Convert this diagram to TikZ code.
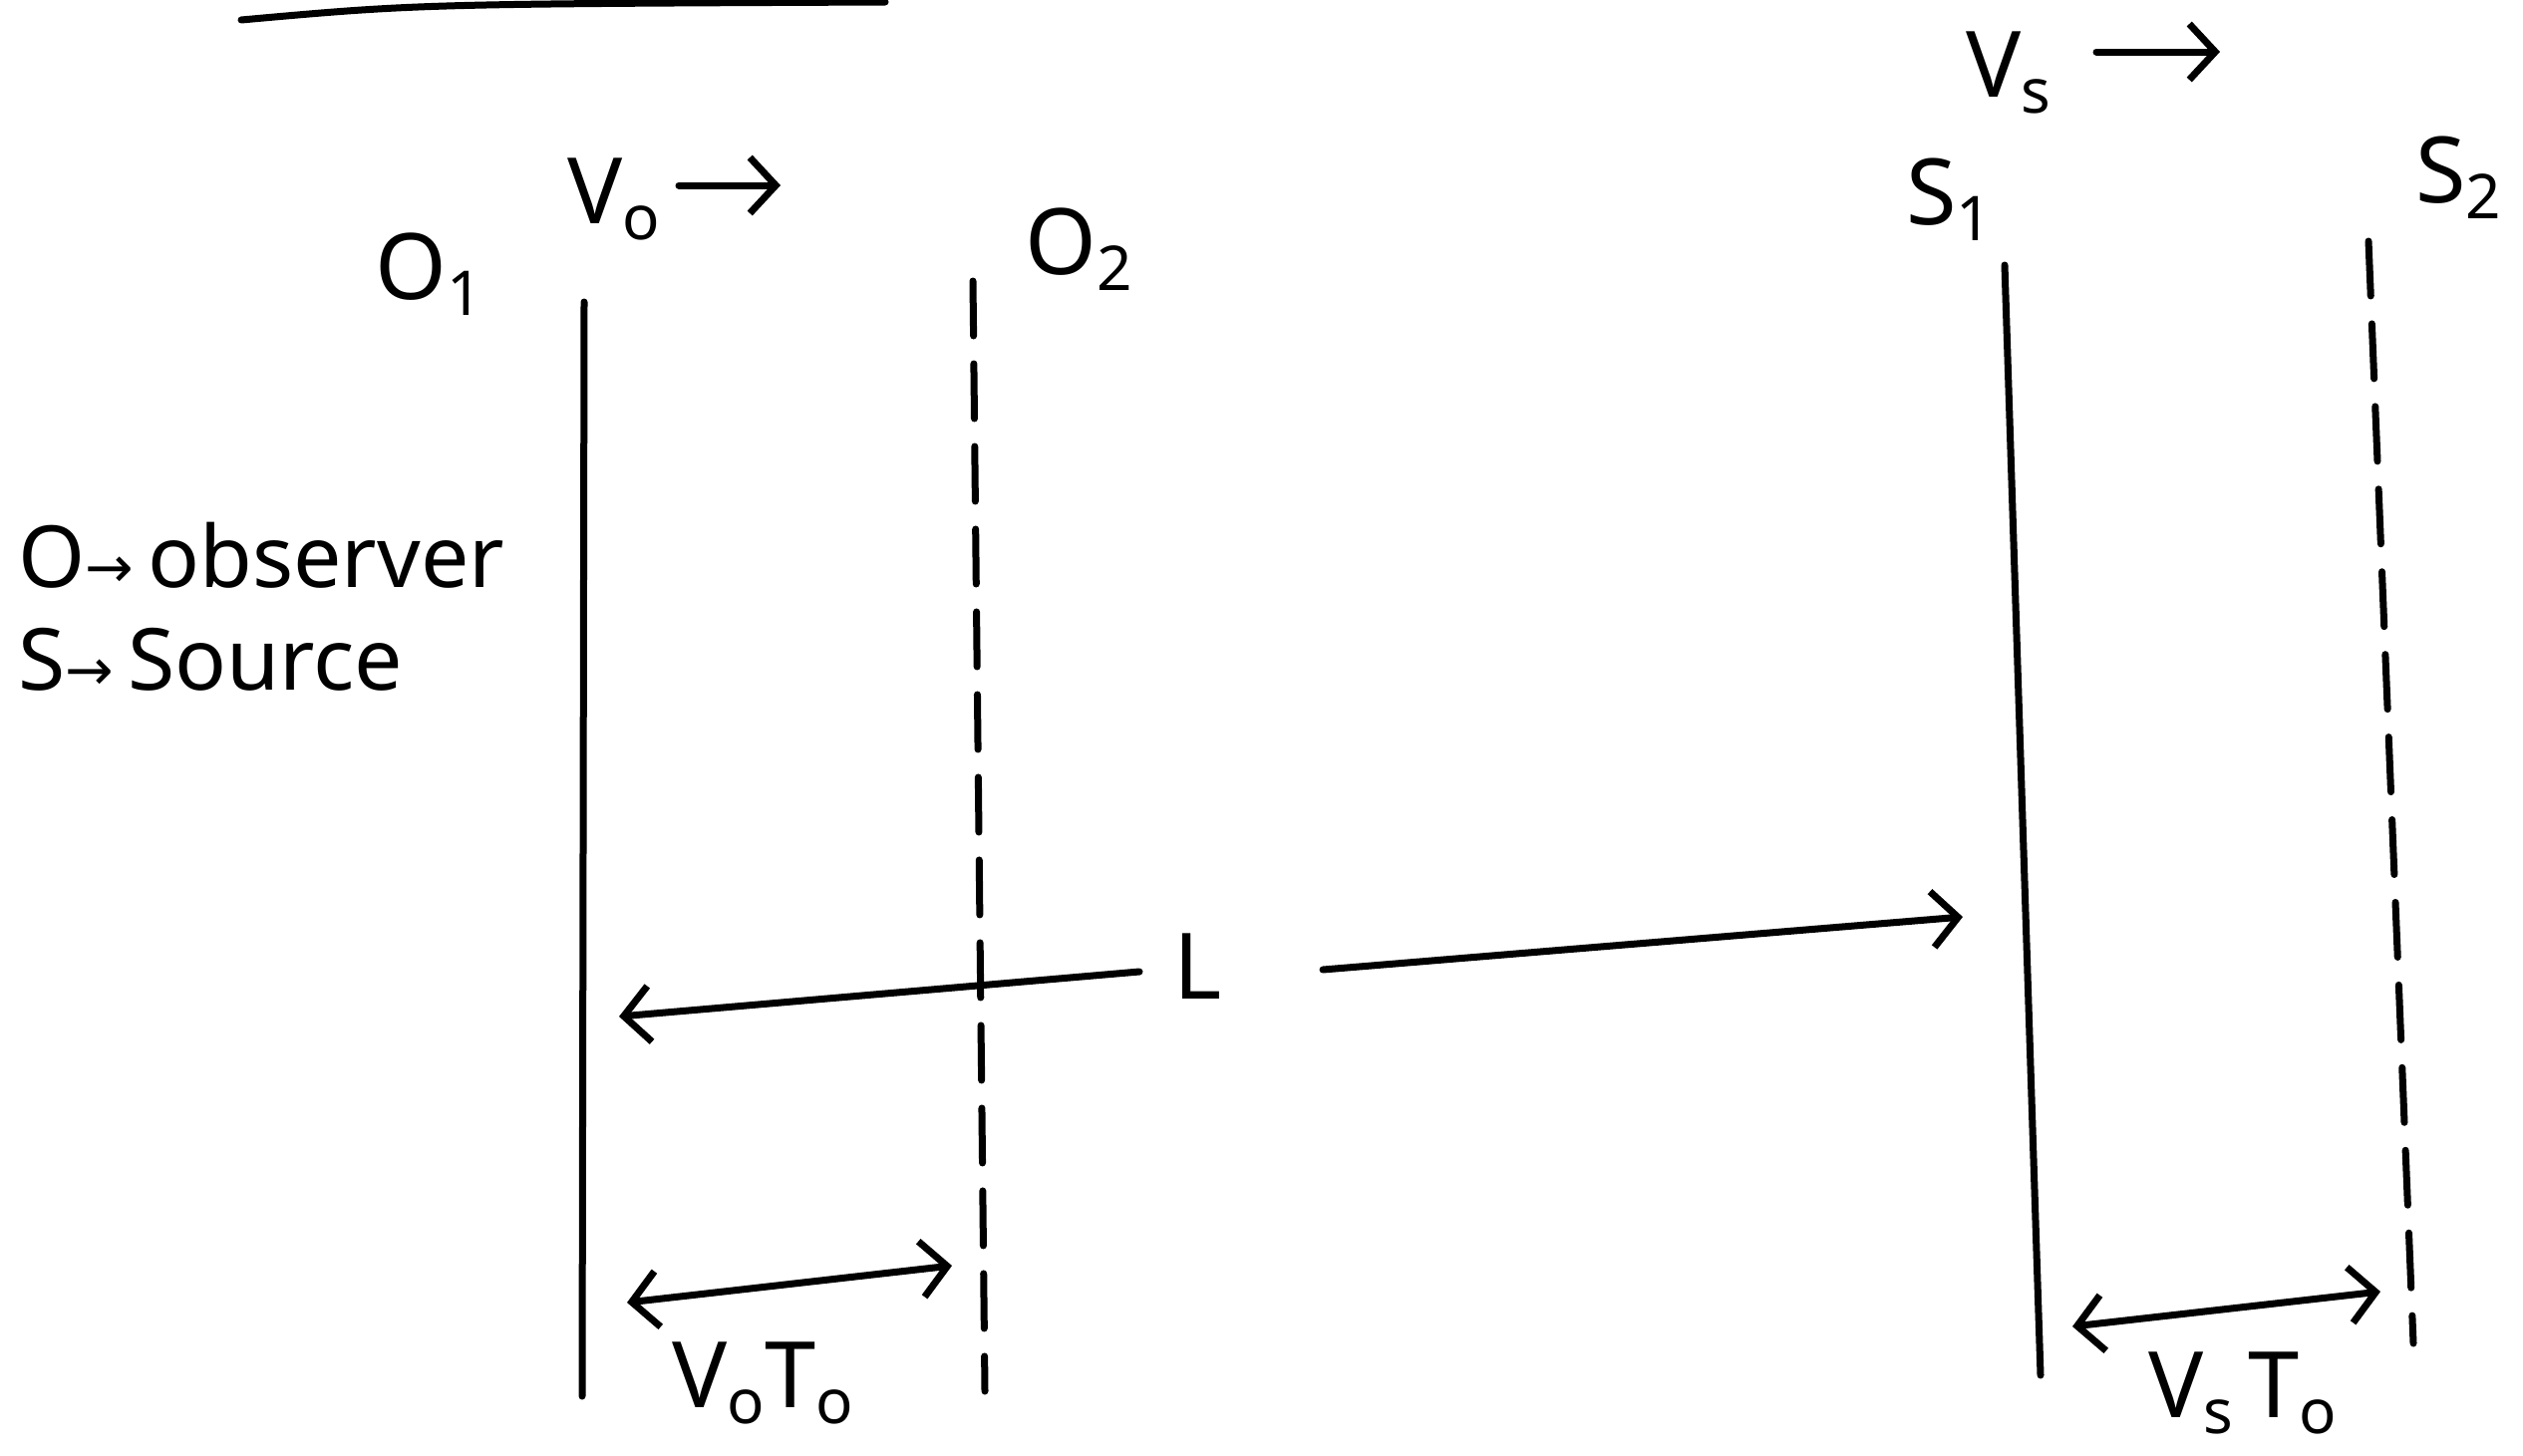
\documentclass[tikz,border=0pt]{standalone}
\usepackage{fontspec}
\setmainfont{Noto Sans}
\newfontfamily\djv{DejaVu Sans}
\usetikzlibrary{arrows.meta}
\newcommand\subs[1]{\raisebox{-0.18em}{\fontsize{62}{62}\selectfont #1}}
\begin{document}
\begin{tikzpicture}[x=1pt,y=-1pt,
  ink/.style={line width=7pt,line cap=round},
  dsh/.style={ink,dash pattern=on 55pt off 28pt},
  tipb/.tip={Straight Barb[length=26pt,width=56pt,line width=7pt]},
  arr/.style={ink,-tipb},
  darr/.style={ink,tipb-tipb},
  lbl/.style={font=\fontsize{92}{100}\selectfont,inner sep=0pt},
  leg/.style={font=\fontsize{86}{90}\selectfont,inner sep=0pt,anchor=west}]
\useasboundingbox (0,0) rectangle (2531,1460);
% leftover stroke at top
\coordinate (ua) at (242,20); \coordinate (ub) at (888,2);
\draw[ink] (ua) .. controls (420,4) .. (ub);
% vertical lines
\coordinate (o1t) at (586,303); \coordinate (o1b) at (584,1401);
\coordinate (o2t) at (976,282); \coordinate (o2b) at (988,1396);
\coordinate (s1t) at (2011,266); \coordinate (s1b) at (2047,1380);
\coordinate (s2t) at (2376,242); \coordinate (s2b) at (2421,1348);
\draw[ink] (o1t) -- (o1b);
\draw[dsh] (o2t) -- (o2b);
\draw[ink] (s1t) -- (s1b);
\draw[dsh] (s2t) -- (s2b);
% labels
\node[lbl] (O1) at (430,275) {O\subs{1}};
\node[lbl] (V0) at (616,200) {V\subs{o}};
\coordinate (v0a) at (681,186); \coordinate (v0b) at (783,186);
\draw[arr] (v0a) -- (v0b);
\node[lbl] (O2) at (1082,250) {O\subs{2}};
\node[lbl] (S1) at (1955,200) {S\subs{1}};
\node[lbl] (S2) at (2466,178) {S\subs{2}};
\node[lbl] (Vs) at (2015,73) {V\subs{s}};
\coordinate (vsa) at (2103,52); \coordinate (vsb) at (2227,52);
\draw[arr] (vsa) -- (vsb);
% legend
\node[leg] (leg1) at (18,557) {O{\djv\fontsize{58}{58}\selectfont →}\,observer};
\node[leg] (leg2) at (18,662) {S{\djv\fontsize{58}{58}\selectfont →}\,Source};
% L arrows
\node[lbl] (L) at (1202,970) {L};
\coordinate (la) at (1143,975); \coordinate (lb) at (621,1020);
\coordinate (ra) at (1327,973); \coordinate (rb) at (1969,920);
\draw[arr] (la) -- (lb);
\draw[arr] (ra) -- (rb);
% V0T0
\coordinate (va) at (629,1307); \coordinate (vb) at (955,1270);
\draw[darr] (va) -- (vb);
\node[lbl] (V0T0) at (765,1388) {V\subs{o}T\subs{o}};
% VsT0
\coordinate (wa) at (2079,1331); \coordinate (wb) at (2388,1296);
\draw[darr] (wa) -- (wb);
\node[lbl] (VsT0) at (2250,1398) {V\subs{s}\,T\subs{o}};
\end{tikzpicture}
\end{document}
